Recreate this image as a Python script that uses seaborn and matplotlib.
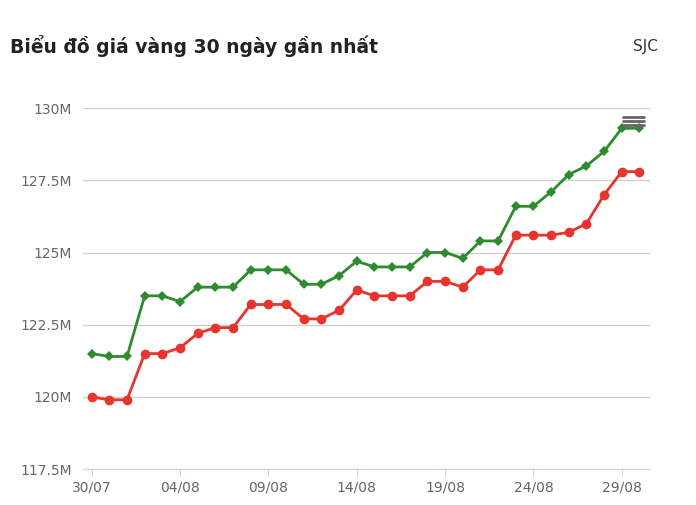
import matplotlib
matplotlib.use("Agg")
import matplotlib.pyplot as plt
import seaborn as sns
import pandas as pd

dates = ["30/07","31/07","01/08","02/08","03/08","04/08","05/08","06/08","07/08","08/08","09/08",
         "10/08","11/08","12/08","13/08","14/08","15/08","16/08","17/08","18/08","19/08","20/08",
         "21/08","22/08","23/08","24/08","25/08","26/08","27/08","28/08","29/08","30/08"]
sell = [121.5,121.4,121.4,123.5,123.5,123.3,123.8,123.8,123.8,124.4,124.4,124.4,123.9,123.9,124.2,124.7,
        124.5,124.5,124.5,125.0,125.0,124.8,125.4,125.4,126.6,126.6,127.1,127.7,128.0,128.5,129.3,129.3]
buy = [120.0,119.9,119.9,121.5,121.5,121.7,122.2,122.4,122.4,123.2,123.2,123.2,122.7,122.7,123.0,123.7,
       123.5,123.5,123.5,124.0,124.0,123.8,124.4,124.4,125.6,125.6,125.6,125.7,126.0,127.0,127.8,127.8]
yticks = [117.5,120,122.5,125,127.5,130]
ylabels = ["117.5M","120M","122.5M","125M","127.5M","130M"]

df = pd.DataFrame({"i": range(len(dates)), "sell": sell, "buy": buy})

sns.set_style("white")
fig = plt.figure(figsize=(6.96,5.05), dpi=100)
ax = fig.add_axes([0.119, 0.071, 0.815, 0.715])
sns.lineplot(data=df, x="i", y="sell", ax=ax, color="#2e8b2e", marker="D", markersize=5,
             markeredgewidth=0, linewidth=2)
sns.lineplot(data=df, x="i", y="buy", ax=ax, color="#e8342e", marker="o", markersize=7,
             markeredgewidth=0, linewidth=2)
ax.set_ylim(117.5,130)
ax.set_xlim(-0.5, 31.6)
ax.set_yticks(yticks)
ax.set_yticklabels(ylabels)
ax.set_xticks(range(0,32,5))
ax.set_xticklabels([dates[k] for k in range(0,32,5)])
ax.grid(axis="y", color="#d0d0d0", linewidth=1)
for s in ["top","right","left"]:
    ax.spines[s].set_visible(False)
ax.spines["bottom"].set_color("#ccd6eb")
ax.tick_params(axis="y", length=0, labelsize=10, colors="#666666", pad=8)
ax.tick_params(axis="x", length=5, color="#ccd6eb", labelsize=10, colors="#666666", direction="out", bottom=True)
ax.set_xlabel(""); ax.set_ylabel("")
fig.text(0.014, 0.895, "Biểu đồ giá vàng 30 ngày gần nhất", fontsize=13.5, fontweight="bold", color="#222222")
fig.text(0.945, 0.9, "SJC", fontsize=11, color="#333333", ha="right")
for yy in [0.768, 0.760, 0.752]:
    fig.add_artist(plt.Line2D([0.895,0.926],[yy,yy], color="#666666", linewidth=2))
fig.savefig("out.png", dpi=100)
